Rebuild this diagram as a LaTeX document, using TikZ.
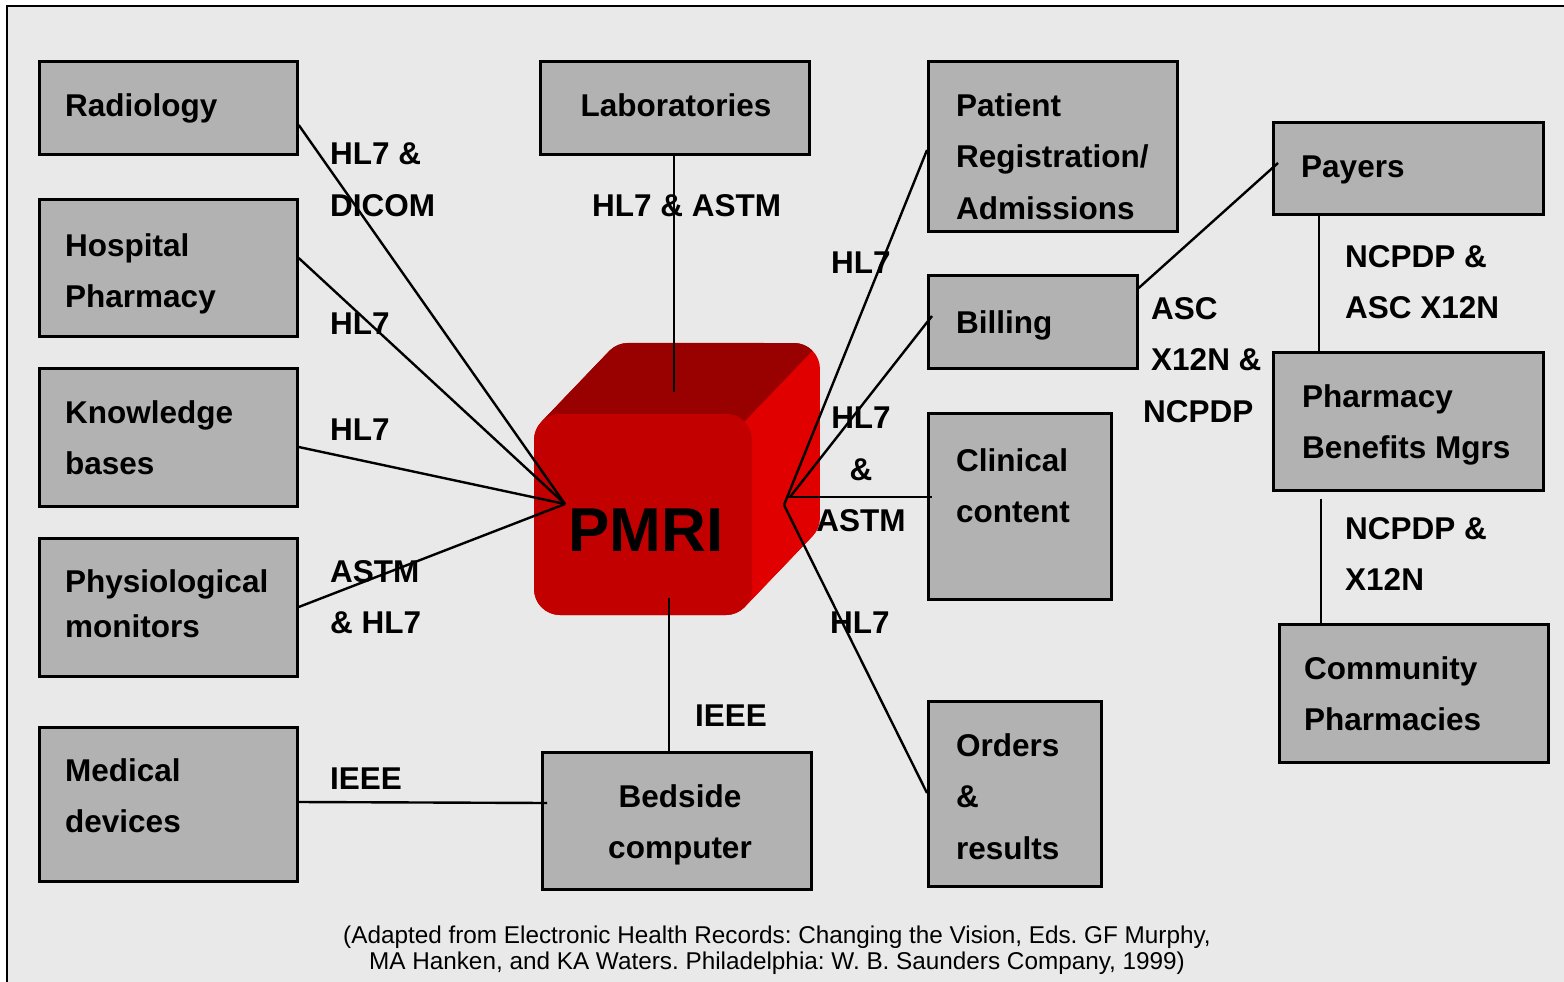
\documentclass[tikz,border=0pt]{standalone}
\usepackage{fontspec}
\setmainfont{Liberation Sans}
\usetikzlibrary{calc}
\frenchspacing
\definecolor{bgc}{HTML}{E9E9E9}
\definecolor{boxfill}{HTML}{B2B2B2}
\definecolor{cubefront}{HTML}{C20000}
\definecolor{cubetop}{HTML}{990000}
\definecolor{cubeside}{HTML}{E00000}
\begin{document}
\begin{tikzpicture}[x=1pt,y=1pt,
  sbox/.style={draw=black, line width=2.7pt, fill=boxfill, rectangle, inner sep=0pt, anchor=north west},
  txt/.style={font=\bfseries\fontsize{31.5}{51.5}\selectfont, inner sep=0pt, anchor=north west, align=left},
  ctxt/.style={txt, anchor=north, align=center},
  conn/.style={draw=black, line width=2.4pt}]
\useasboundingbox (0,0) rectangle (1564,-982);
\clip (0,0) rectangle (1564,-982);
\fill[white] (0,0) rectangle (1564,-982);
\draw[fill=bgc, line width=2.5pt] (7,-6) rectangle (1620,-1040);

% ---- boxes
\node[sbox, minimum width=258pt, minimum height=93pt]  (rad)  at (38,-60) {};
\node[sbox, minimum width=258pt, minimum height=137pt] (hosp) at (38,-198) {};
\node[sbox, minimum width=258pt, minimum height=138pt] (know) at (38,-367) {};
\node[sbox, minimum width=258pt, minimum height=138pt] (phys) at (38,-537) {};
\node[sbox, minimum width=258pt, minimum height=154pt] (med)  at (38,-726) {};
\node[sbox, minimum width=269pt, minimum height=93pt]  (lab)  at (539,-60) {};
\node[sbox, minimum width=249pt, minimum height=170pt] (pat)  at (927,-60) {};
\node[sbox, minimum width=270pt, minimum height=92pt]  (pay)  at (1272,-121) {};
\node[sbox, minimum width=209pt, minimum height=93pt]  (bill) at (927,-274) {};
\node[sbox, minimum width=270pt, minimum height=138pt] (pbm)  at (1272,-351) {};
\node[sbox, minimum width=183pt, minimum height=186pt] (clin) at (927,-412) {};
\node[sbox, minimum width=269pt, minimum height=138pt] (comm) at (1278,-623) {};
\node[sbox, minimum width=173pt, minimum height=185pt] (ord)  at (927,-700) {};
\node[sbox, minimum width=269pt, minimum height=137pt] (bed)  at (541,-751) {};

% ---- box texts
\node[txt] (radT)  at (65,-93)  {Radiology};
\node[txt] (hospT) at (65,-233) {Hospital\\Pharmacy};
\node[txt] (knowT) at (65,-400) {Knowledge\\bases};
\node[txt] (physT) at (65,-569) {Physiological\\[-6.5pt]monitors};
\node[txt] (medT)  at (65,-758) {Medical\\devices};
\node[ctxt] (labT) at (676,-93) {Laboratories};
\node[txt] (patT)  at (956,-93) {Patient\\Registration/\\Admissions};
\node[txt] (payT)  at (1301,-156) {Payers};
\node[txt] (billT) at (956,-310) {Billing};
\node[txt] (pbmT)  at (1302,-384) {Pharmacy\\Benefits Mgrs};
\node[txt] (clinT) at (956,-448) {Clinical\\content};
\node[txt] (commT) at (1304,-656) {Community\\Pharmacies};
\node[txt] (ordT)  at (956,-733) {Orders\\\&\\results};
\node[ctxt] (bedT) at (680,-784) {Bedside\\computer};

% ---- PMRI cube
\foreach \t in {0,0.025,...,1.001}{
  \fill[cubeside, rounded corners=26pt] ($(534,-615)+\t*(68,71)$) rectangle ++(218,201);
}
\fill[cubetop] (541.6,-421.6) -- (609.6,-350.6) arc[start angle=135,end angle=90,radius=26]
  -- (794,-343) arc[start angle=90,end angle=45,radius=26]
  -- (744.4,-421.6) arc[start angle=45,end angle=90,radius=26]
  -- (560,-414) arc[start angle=90,end angle=135,radius=26] -- cycle;
\fill[cubefront, rounded corners=26pt] (534,-615) rectangle (752,-414);
\node[font=\bfseries\fontsize{62}{62}\selectfont, inner sep=0pt] (pmri) at (646,-530) {PMRI};

% ---- hub points
\coordinate (hubL) at (565,-504);
\coordinate (hubR) at (784,-505);
\coordinate (labEnd) at (674,-392);
\coordinate (bedEnd) at (669,-598);

% ---- connectors
\draw[conn] ([yshift=-65pt]rad.north east) -- (hubL);
\draw[conn] ([yshift=-60pt]hosp.north east) -- (hubL);
\draw[conn] ([yshift=-80pt]know.north east) -- (hubL);
\draw[conn] ([yshift=-70pt]phys.north east) -- (hubL);
\draw[conn] ([xshift=135pt]lab.south west) -- (labEnd);
\draw[conn] ([xshift=128pt]bed.north west) -- (bedEnd);
\draw[conn] ([yshift=-76pt]med.north east) -- ([xshift=6pt,yshift=-52pt]bed.north west);
\draw[conn] (hubR) -- ([yshift=-90pt]pat.north west);
\draw[conn] ([xshift=6pt,yshift=8pt]hubR) -- ([xshift=5pt,yshift=-42pt]bill.north west);
\draw[conn] ([xshift=3pt,yshift=8pt]hubR) -- ([xshift=5pt,yshift=-85pt]clin.north west);
\draw[conn] (hubR) -- ([yshift=-93pt]ord.north west);
\draw[conn] ([yshift=-14pt]bill.north east) -- ([xshift=6pt,yshift=-42pt]pay.north west);
\draw[conn] ([xshift=47pt]pay.south west) -- ([xshift=47pt,yshift=-2pt]pbm.north west);
\draw[conn] ([xshift=49pt,yshift=-7pt]pbm.south west) -- ([xshift=43pt]comm.north west);

% ---- connector labels
\node[txt] (l1) at (330,-143) {HL7 \&\\DICOM};
\node[txt] (l2) at (592,-194) {HL7 \& ASTM};
\node[txt] (l3) at (330,-313) {HL7};
\node[txt] (l4) at (330,-419) {HL7};
\node[txt] (l5) at (330,-560) {ASTM\\\& HL7};
\node[txt] (l6) at (330,-768) {IEEE};
\node[txt] (l7) at (695,-705) {IEEE};
\node[txt] (l8) at (831,-252) {HL7};
\node[ctxt] (l9) at (861,-407) {HL7\\\&\\ASTM};
\node[txt] (l10) at (830,-612) {HL7};
\node[txt] (l11) at (1151,-297) {ASC\\X12N \&\\\hspace*{-8pt}NCPDP};
\node[txt] (l12) at (1345,-245) {NCPDP \&\\ASC X12N};
\node[txt] (l13) at (1345,-517) {NCPDP \&\\X12N};

% ---- caption
\node[font=\fontsize{24.3}{26}\selectfont, inner sep=0pt, anchor=north, align=center] (cap) at (777,-926)
  {(Adapted from Electronic Health Records: Changing the Vision, Eds. GF Murphy,\\
   MA Hanken, and KA Waters. Philadelphia: W. B. Saunders Company, 1999)};
\end{tikzpicture}
\end{document}
